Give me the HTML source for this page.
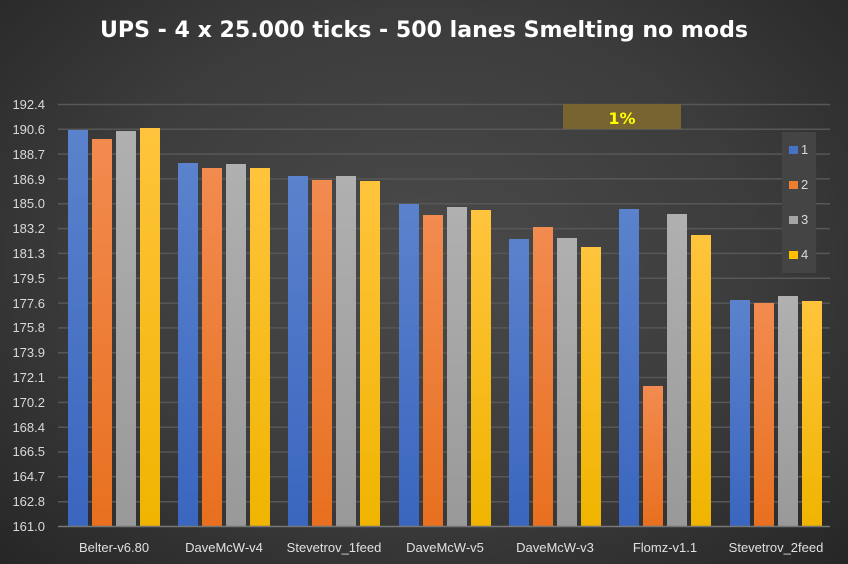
<!DOCTYPE html>
<html><head><meta charset="utf-8"><style>
html,body{margin:0;padding:0;width:848px;height:564px;overflow:hidden}
body{background:radial-gradient(ellipse at 50% 45%,#4a4a4a 0%,#3c3c3c 55%,#262626 100%);font-family:"Liberation Sans",sans-serif}
</style></head><body>
<svg width="848" height="564" xmlns="http://www.w3.org/2000/svg" style="position:absolute;left:0;top:0">
<defs>
<linearGradient id="gb" x1="0" y1="0" x2="0" y2="1"><stop offset="0" stop-color="#5b82cc"/><stop offset="1" stop-color="#3a66bf"/></linearGradient>
<linearGradient id="go" x1="0" y1="0" x2="0" y2="1"><stop offset="0" stop-color="#f28b50"/><stop offset="1" stop-color="#e8701f"/></linearGradient>
<linearGradient id="gg" x1="0" y1="0" x2="0" y2="1"><stop offset="0" stop-color="#b0b0b0"/><stop offset="1" stop-color="#999"/></linearGradient>
<linearGradient id="gy" x1="0" y1="0" x2="0" y2="1"><stop offset="0" stop-color="#ffc43c"/><stop offset="1" stop-color="#f0b400"/></linearGradient>
</defs>
<text x="100" y="37" textLength="648" lengthAdjust="spacingAndGlyphs" fill="#fff" font-size="22" font-weight="bold" font-family="DejaVu Sans, sans-serif">UPS - 4 x 25.000 ticks - 500 lanes Smelting no mods</text>
<g stroke="#575757" stroke-width="1.5">
<line x1="58" x2="830" y1="104.5" y2="104.5"/><line x1="58" x2="830" y1="129.3" y2="129.3"/><line x1="58" x2="830" y1="154.1" y2="154.1"/><line x1="58" x2="830" y1="178.9" y2="178.9"/><line x1="58" x2="830" y1="203.8" y2="203.8"/><line x1="58" x2="830" y1="228.6" y2="228.6"/><line x1="58" x2="830" y1="253.4" y2="253.4"/><line x1="58" x2="830" y1="278.2" y2="278.2"/><line x1="58" x2="830" y1="303.1" y2="303.1"/><line x1="58" x2="830" y1="327.9" y2="327.9"/><line x1="58" x2="830" y1="352.7" y2="352.7"/><line x1="58" x2="830" y1="377.5" y2="377.5"/><line x1="58" x2="830" y1="402.4" y2="402.4"/><line x1="58" x2="830" y1="427.2" y2="427.2"/><line x1="58" x2="830" y1="452" y2="452"/><line x1="58" x2="830" y1="476.8" y2="476.8"/><line x1="58" x2="830" y1="501.7" y2="501.7"/>
</g>
<g fill="#d9d9d9" font-size="13" text-anchor="end">
<text x="45" y="109">192.4</text><text x="45" y="134">190.6</text><text x="45" y="159">188.7</text><text x="45" y="184">186.9</text><text x="45" y="208">185.0</text><text x="45" y="233">183.2</text><text x="45" y="258">181.3</text><text x="45" y="283">179.5</text><text x="45" y="308">177.6</text><text x="45" y="332">175.8</text><text x="45" y="357">173.9</text><text x="45" y="382">172.1</text><text x="45" y="407">170.2</text><text x="45" y="432">168.4</text><text x="45" y="456">166.5</text><text x="45" y="481">164.7</text><text x="45" y="506">162.8</text><text x="45" y="531">161.0</text>
</g>
<rect x="563" y="104" width="118" height="25" fill="#7a6630" opacity="0.95"/>
<text x="622" y="124" text-anchor="middle" fill="#ffff00" font-size="16" font-weight="bold" font-family="DejaVu Sans, sans-serif">1%</text>
<g id="bars">
<rect x="68" y="130" width="20" height="396" fill="url(#gb)"/><rect x="92" y="139" width="20" height="387" fill="url(#go)"/><rect x="116" y="131" width="20" height="395" fill="url(#gg)"/><rect x="140" y="128" width="20" height="398" fill="url(#gy)"/>
<rect x="178" y="163" width="20" height="363" fill="url(#gb)"/><rect x="202" y="168" width="20" height="358" fill="url(#go)"/><rect x="226" y="164" width="20" height="362" fill="url(#gg)"/><rect x="250" y="168" width="20" height="358" fill="url(#gy)"/>
<rect x="288" y="176" width="20" height="350" fill="url(#gb)"/><rect x="312" y="180" width="20" height="346" fill="url(#go)"/><rect x="336" y="176" width="20" height="350" fill="url(#gg)"/><rect x="360" y="181" width="20" height="345" fill="url(#gy)"/>
<rect x="399" y="204" width="20" height="322" fill="url(#gb)"/><rect x="423" y="215" width="20" height="311" fill="url(#go)"/><rect x="447" y="207" width="20" height="319" fill="url(#gg)"/><rect x="471" y="210" width="20" height="316" fill="url(#gy)"/>
<rect x="509" y="239" width="20" height="287" fill="url(#gb)"/><rect x="533" y="227" width="20" height="299" fill="url(#go)"/><rect x="557" y="238" width="20" height="288" fill="url(#gg)"/><rect x="581" y="247" width="20" height="279" fill="url(#gy)"/>
<rect x="619" y="209" width="20" height="317" fill="url(#gb)"/><rect x="643" y="386" width="20" height="140" fill="url(#go)"/><rect x="667" y="214" width="20" height="312" fill="url(#gg)"/><rect x="691" y="235" width="20" height="291" fill="url(#gy)"/>
<rect x="730" y="300" width="20" height="226" fill="url(#gb)"/><rect x="754" y="303" width="20" height="223" fill="url(#go)"/><rect x="778" y="296" width="20" height="230" fill="url(#gg)"/><rect x="802" y="301" width="20" height="225" fill="url(#gy)"/>
</g>
<line x1="58" x2="830" y1="526.5" y2="526.5" stroke="#777" stroke-width="1.5"/>
<g fill="#e0e0e0" font-size="13" text-anchor="middle">
<text x="114" y="552">Belter-v6.80</text><text x="224" y="552">DaveMcW-v4</text><text x="334" y="552">Stevetrov_1feed</text><text x="445" y="552">DaveMcW-v5</text><text x="555" y="552">DaveMcW-v3</text><text x="665" y="552">Flomz-v1.1</text><text x="776" y="552">Stevetrov_2feed</text>
</g>
<rect x="782" y="132" width="34" height="141" fill="#444"/>
<rect x="789" y="146" width="9" height="8" fill="#4472c4"/><rect x="789" y="181" width="9" height="8" fill="#ed7d31"/><rect x="789" y="216" width="9" height="8" fill="#a5a5a5"/><rect x="789" y="251" width="9" height="8" fill="#ffc000"/>
<g fill="#d9d9d9" font-size="13"><text x="801" y="154">1</text><text x="801" y="189">2</text><text x="801" y="224">3</text><text x="801" y="259">4</text></g>
</svg>
</body></html>
